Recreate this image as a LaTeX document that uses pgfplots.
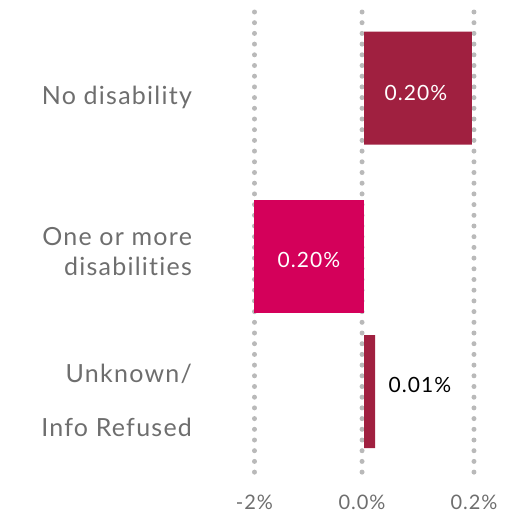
\documentclass[border=0pt]{standalone}
\usepackage{pgfplots}
\pgfplotsset{compat=1.18}
\usepackage{fontspec}
\setmainfont{Lato}[Ligatures=NoCommon, LetterSpace=5]
\definecolor{barA}{RGB}{160,32,64}
\definecolor{barB}{RGB}{212,0,90}
\definecolor{gridg}{RGB}{185,185,185}
\definecolor{txtg}{RGB}{110,110,110}
\begin{document}
\begin{tikzpicture}
\begin{axis}[
  name=ax,
  scale only axis,
  width=219.5pt, height=465pt,
  xmin=-0.2, xmax=0.2,
  ymin=12, ymax=477,
  y dir=reverse,
  axis line style={draw=none},
  major tick length=0pt,
  xtick={-0.2,-0.004,0.2},
  xticklabels={-2\%,0.0\%,0.2\%},
  ytick={97,252,400.5},
  yticklabels={No disability,{One or more\\disabilities},{Unknown/\\[24pt]Info Refused}},
  yticklabel style={align=right, font=\fontsize{25}{30}\selectfont, text=txtg, xshift=-59pt},
  xticklabel style={font=\fontsize{20}{24}\selectfont, text=txtg, yshift=-14pt},
  xmajorgrids,
  grid style={gridg, line width=5pt, line cap=round, dash pattern=on 0pt off 10.7pt},
  clip=false,
]
\addplot[xbar, bar width=113, bar shift=0pt, fill=barA, draw=none] coordinates {(0.196,88) (0.0196,391.5)};
\addplot[xbar, bar width=113, bar shift=0pt, fill=barB, draw=none] coordinates {(-0.2,256.5)};
\node[text=white, font=\fontsize{21}{25}\selectfont] at (axis cs:0.0943,93) {0.20\%};
\node[text=white, font=\fontsize{21}{25}\selectfont] at (axis cs:-0.1007,260) {0.20\%};
\node[text=black, font=\fontsize{21}{25}\selectfont] at (axis cs:0.1016,385) {0.01\%};
\end{axis}
\path (ax.south west) ++(-254.5pt,-45pt) rectangle ++(522pt,522pt);
\end{tikzpicture}
\end{document}
